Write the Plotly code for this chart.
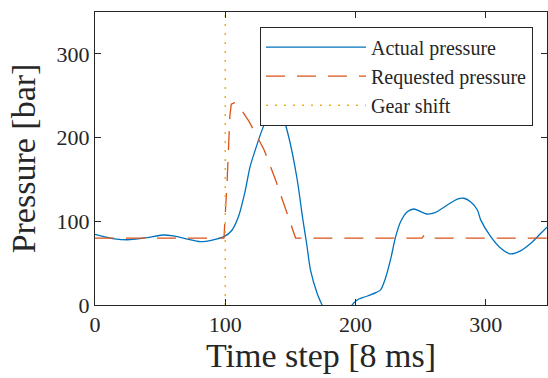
import plotly.graph_objects as go

# Actual pressure (blue)
actual_t = [0, 6, 15, 27, 40, 52, 60, 70, 81, 90, 99, 105, 110, 115.4, 119, 123, 128, 133.3,
            136, 138.5, 141, 143.6, 148.7, 155, 159.5, 162.6, 165.4, 170.5, 174.3, 178, 183,
            188, 193, 197.4, 201.3, 206, 211.5, 216, 219.2, 223, 227, 230.8, 234.6, 239.8,
            244.9, 250, 255, 261.5, 270.5, 278.2, 283.3, 288.5, 293.6, 296, 303.8, 311.5,
            319, 326.9, 334.6, 342.3, 347]
actual_p = [84.5, 82, 79, 78, 80.5, 83.6, 82.5, 79, 75.6, 77.5, 81.6, 89, 105, 137, 165, 185,
            208, 228, 235, 238, 235, 228, 201, 152, 103, 72, 42, 14, 0, -12, -22,
            -22, -12, 0, 6, 9, 12, 15, 18, 32, 55, 81.6, 99.5, 111.5,
            114.7, 111.5, 108.7, 110.7, 119.5, 126.6, 127.5, 123, 113.5, 102, 81.6, 67.7,
            61, 64.9, 73.7, 85.7, 93]

# Requested pressure (red dashed)
req_t = [0, 99, 101.5, 103.5, 104.6, 107, 109.5, 111.5, 118, 129.6, 138.5, 146, 151, 154,
         251, 253, 257, 347]
req_p = [80, 80, 150, 225, 240, 241.5, 239, 235, 220, 186, 150, 117, 93, 80,
         80, 84, 80, 80]

# Gear shift (vertical dotted)
shift_t = [100, 100]
shift_p = [0, 350]

x_ticks = [0, 100, 200, 300]
y_ticks = [0, 100, 200, 300]

FONT = "Liberation Serif"
AX = "#262626"

fig = go.Figure()
fig.add_trace(go.Scatter(x=actual_t, y=actual_p, mode="lines", name="Actual pressure",
                         line=dict(color="#0072BD", width=1.3, shape="spline", smoothing=0.8)))
fig.add_trace(go.Scatter(x=req_t, y=req_p, mode="lines", name="Requested pressure",
                         line=dict(color="#D95319", width=1.3, dash="19px,12px")))
fig.add_trace(go.Scatter(x=shift_t, y=shift_p, mode="lines", name="Gear shift",
                         line=dict(color="#EDB120", width=1.5, dash="2px,7px")))

axis_common = dict(showgrid=False, zeroline=False, showline=True, linecolor=AX, linewidth=1,
                   ticks="inside", ticklen=6, tickcolor=AX, mirror="ticks", automargin=False,
                   tickfont=dict(family=FONT, size=22, color=AX))
fig.update_xaxes(range=[0, 347], tickvals=x_ticks,
                 title=dict(text="Time step [8 ms]", font=dict(family=FONT, size=34, color=AX), standoff=4),
                 **axis_common)
fig.update_yaxes(range=[0, 350], tickvals=y_ticks,
                 title=dict(text="Pressure [bar]", font=dict(family=FONT, size=34, color=AX), standoff=10),
                 **axis_common)

fig.update_layout(
    width=548, height=378,
    margin=dict(l=95, r=1, t=12, b=73),
    paper_bgcolor="white", plot_bgcolor="white",
    showlegend=True,
    legend=dict(x=0.969, y=0.950, xanchor="right", yanchor="top",
                bgcolor="white", bordercolor=AX, borderwidth=1,
                font=dict(family=FONT, size=20, color=AX), itemwidth=100,
                tracegroupgap=0),
)
fig.write_html("out.html", config={"displayModeBar": False},
               post_script="document.body.style.margin='0';document.body.style.padding='0';")
